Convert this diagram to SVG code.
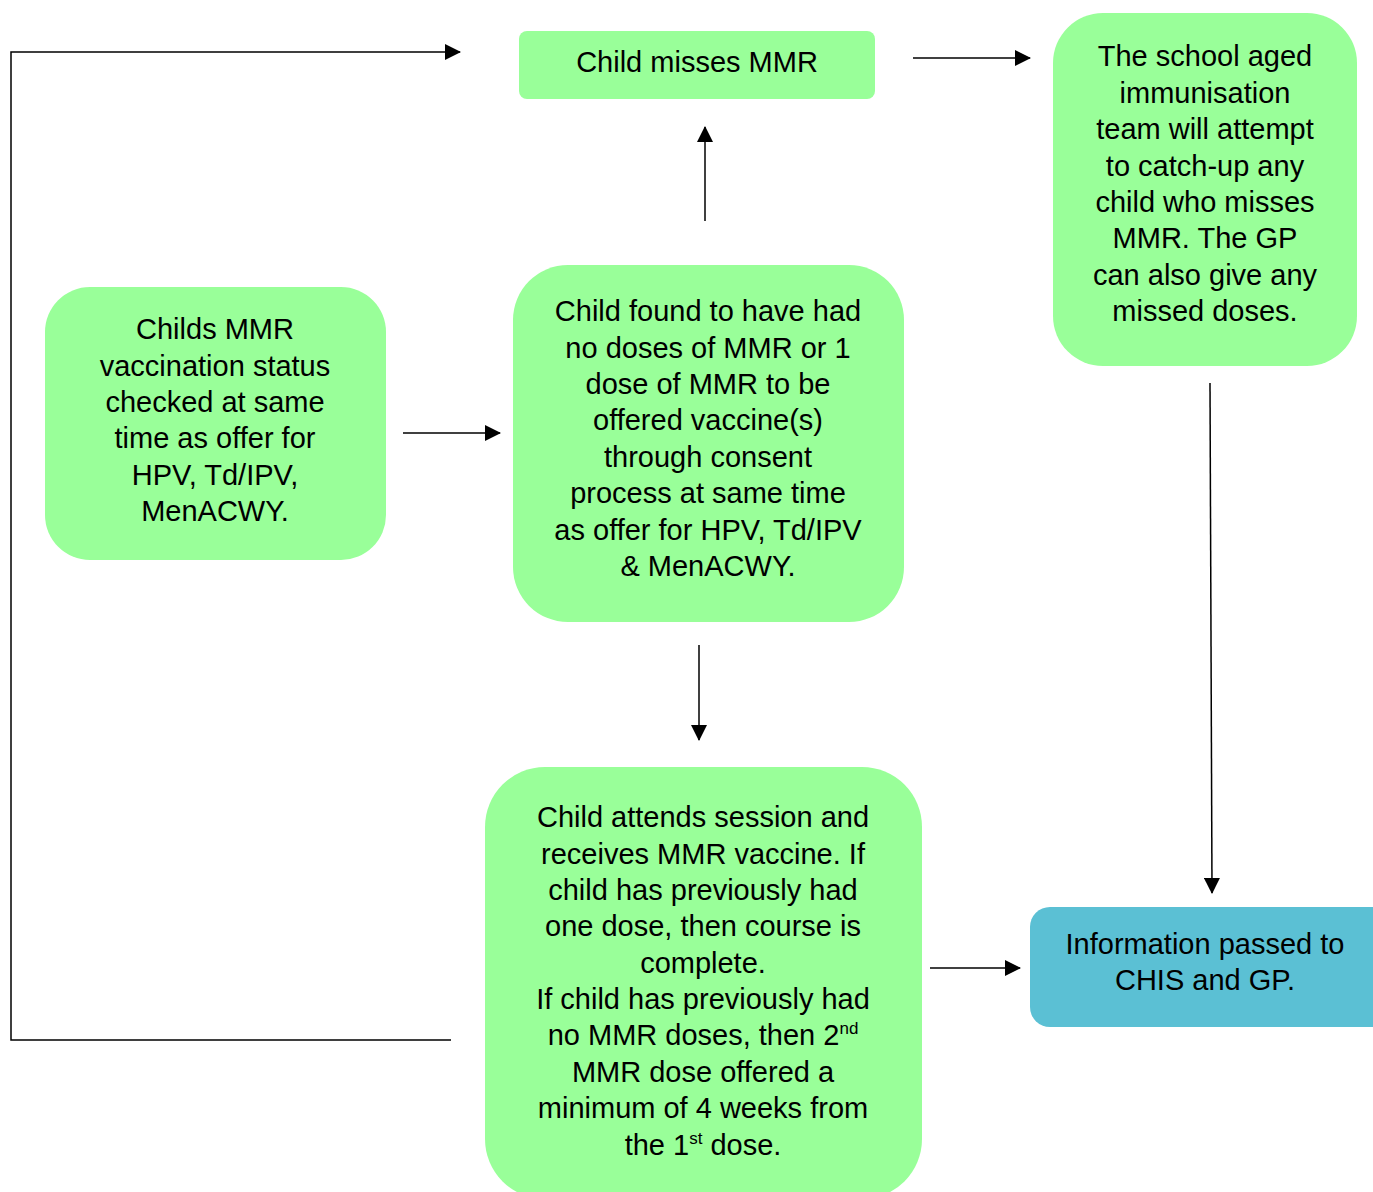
<svg xmlns="http://www.w3.org/2000/svg" width="1373" height="1192" viewBox="0 0 1373 1192">
<defs>
<marker id="ah" markerWidth="16" markerHeight="16" refX="15" refY="8" orient="auto" markerUnits="userSpaceOnUse">
<path d="M0,0 L16,8 L0,16 Z" fill="#000"/>
</marker>
<style>
.g{fill:#99FF99}
.b{fill:#5BC0D4}
.t{font-family:"Liberation Sans",Arial,sans-serif;font-size:29px;fill:#000;text-anchor:middle}
.c{fill:none;stroke:#000;stroke-width:1.5}
.s{font-size:17px}
</style>
</defs>
<rect width="1373" height="1192" fill="#fff"/>
<g id="connectors">
<polyline class="c" points="451,1040 11,1040 11,52 460,52" marker-end="url(#ah)"/>
<line class="c" x1="913" y1="58" x2="1030" y2="58" marker-end="url(#ah)"/>
<line class="c" x1="705" y1="221" x2="705" y2="127" marker-end="url(#ah)"/>
<line class="c" x1="403" y1="433" x2="500" y2="433" marker-end="url(#ah)"/>
<line class="c" x1="699" y1="645" x2="699" y2="740" marker-end="url(#ah)"/>
<line class="c" x1="1210" y1="383" x2="1212" y2="893" marker-end="url(#ah)"/>
<line class="c" x1="930" y1="968" x2="1020" y2="968" marker-end="url(#ah)"/>
</g>
<g id="misses">
<rect class="g" x="519" y="31" width="356" height="68" rx="8"/>
<text class="t" x="697" y="72">Child misses MMR</text>
</g>
<g id="school">
<rect class="g" x="1053" y="13" width="304" height="353" rx="50"/>
<text class="t" x="1205" y="66">The school aged</text>
<text class="t" x="1205" y="103">immunisation</text>
<text class="t" x="1205" y="139">team will attempt</text>
<text class="t" x="1205" y="176">to catch-up any</text>
<text class="t" x="1205" y="212">child who misses</text>
<text class="t" x="1205" y="248">MMR. The GP</text>
<text class="t" x="1205" y="285">can also give any</text>
<text class="t" x="1205" y="321">missed doses.</text>
</g>
<g id="status">
<rect class="g" x="45" y="287" width="341" height="273" rx="45"/>
<text class="t" x="215" y="339">Childs MMR</text>
<text class="t" x="215" y="376">vaccination status</text>
<text class="t" x="215" y="412">checked at same</text>
<text class="t" x="215" y="448">time as offer for</text>
<text class="t" x="215" y="485">HPV, Td/IPV,</text>
<text class="t" x="215" y="521">MenACWY.</text>
</g>
<g id="found">
<rect class="g" x="513" y="265" width="391" height="357" rx="55"/>
<text class="t" x="708" y="321">Child found to have had</text>
<text class="t" x="708" y="358">no doses of MMR or 1</text>
<text class="t" x="708" y="394">dose of MMR to be</text>
<text class="t" x="708" y="430">offered vaccine(s)</text>
<text class="t" x="708" y="467">through consent</text>
<text class="t" x="708" y="503">process at same time</text>
<text class="t" x="708" y="540">as offer for HPV, Td/IPV</text>
<text class="t" x="708" y="576">&amp; MenACWY.</text>
</g>
<g id="attends">
<rect class="g" x="485" y="767" width="437" height="432" rx="60"/>
<text class="t" x="703" y="827">Child attends session and</text>
<text class="t" x="703" y="864">receives MMR vaccine. If</text>
<text class="t" x="703" y="900">child has previously had</text>
<text class="t" x="703" y="936">one dose, then course is</text>
<text class="t" x="703" y="973">complete.</text>
<text class="t" x="703" y="1009">If child has previously had</text>
<text class="t" x="703" y="1045">no MMR doses, then 2<tspan class="s" dy="-11">nd</tspan></text>
<text class="t" x="703" y="1082">MMR dose offered a</text>
<text class="t" x="703" y="1118">minimum of 4 weeks from</text>
<text class="t" x="703" y="1155">the 1<tspan class="s" dy="-11">st</tspan><tspan dy="11"> dose.</tspan></text>
</g>
<g id="info">
<rect class="b" x="1030" y="907" width="363" height="120" rx="20"/>
<text class="t" x="1205" y="954">Information passed to</text>
<text class="t" x="1205" y="990">CHIS and GP.</text>
</g>
</svg>
